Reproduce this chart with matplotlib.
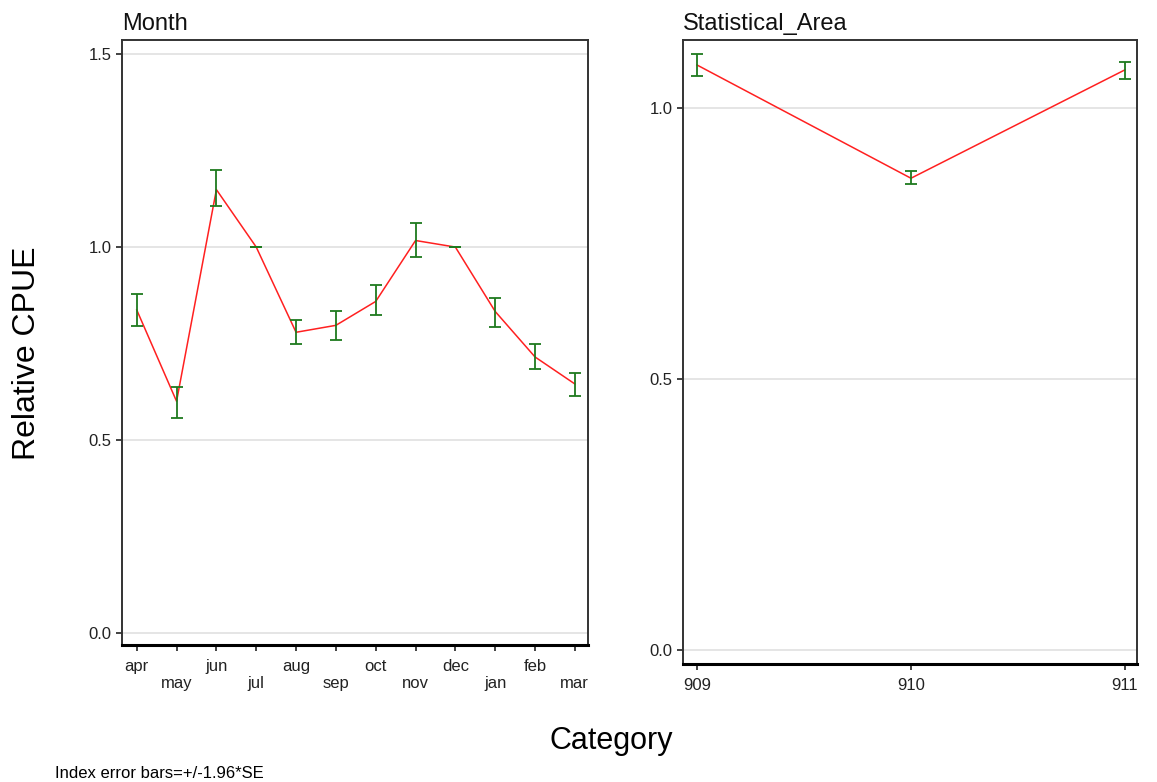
import matplotlib
matplotlib.use("Agg")
import matplotlib.pyplot as plt
import numpy as np

plt.rcParams['font.family'] = ['Liberation Sans', 'DejaVu Sans']

# month effect
months = ['apr', 'may', 'jun', 'jul', 'aug', 'sep', 'oct', 'nov', 'dec', 'jan', 'feb', 'mar']
month_index = [0.837, 0.600, 1.149, 1.000, 0.779, 0.797, 0.859, 1.017, 1.000, 0.833, 0.715, 0.645]
month_lower = [0.796, 0.557, 1.107, 1.000, 0.748, 0.759, 0.823, 0.973, 1.000, 0.793, 0.684, 0.613]
month_upper = [0.879, 0.636, 1.200, 1.000, 0.811, 0.834, 0.901, 1.062, 1.000, 0.867, 0.748, 0.673]

# statistical area effect
areas = ['909', '910', '911']
area_index = [1.079, 0.870, 1.070]
area_lower = [1.058, 0.859, 1.053]
area_upper = [1.099, 0.883, 1.084]

W, H = 1157, 782
fig = plt.figure(figsize=(W / 100, H / 100), dpi=100)
ax1 = fig.add_axes([122 / W, 1 - 645 / H, 466 / W, 605 / H])
ax2 = fig.add_axes([683 / W, 1 - 664 / H, 454 / W, 624 / H])


def draw(ax, labels, vals, lo, hi, title, yticks):
    x = np.arange(len(labels))
    vals = np.array(vals)
    yerr = [vals - np.array(lo), np.array(hi) - vals]
    for y in yticks:
        ax.axhline(y, color='#e0e0e0', lw=1.2, zorder=0)
    ax.plot(x, vals, color='#ff2020', lw=1.1, zorder=2)
    ax.errorbar(x, vals, yerr=yerr, fmt='none', ecolor='#1e7a1e', elinewidth=1.3,
                capsize=4, capthick=1.3, zorder=3)
    ax.set_xticks(x)
    ax.set_yticks(yticks)
    ax.set_yticklabels(['%.1f' % y for y in yticks])
    ax.tick_params(axis='both', labelsize=12, colors='#222222', length=4, width=1.2)
    ax.tick_params(axis='x', pad=6)
    for side in ['top', 'right', 'left']:
        ax.spines[side].set_color('#333333')
        ax.spines[side].set_linewidth(1.4)
    ax.spines['bottom'].set_color('black')
    ax.spines['bottom'].set_linewidth(2.2)
    ax.set_title(title, loc='left', fontsize=17, pad=7, color='#111111')


draw(ax1, months, month_index, month_lower, month_upper, 'Month', [0.0, 0.5, 1.0, 1.5])
ax1.set_xticklabels([m if i % 2 == 0 else '\n' + m for i, m in enumerate(months)],
                    linespacing=1.15)
ax1.set_xlim(-0.37, 11.33)
ax1.set_ylim(-0.032, 1.537)

draw(ax2, areas, area_index, area_lower, area_upper, 'Statistical_Area', [0.0, 0.5, 1.0])
ax2.set_xticklabels(areas)
ax2.set_xlim(-0.065, 2.056)
ax2.set_ylim(-0.026, 1.125)

fig.text(27 / W, 1 - 353 / H, 'Relative CPUE', rotation=90, fontsize=23,
         ha='center', va='center')
fig.text(611 / W, 1 - 741 / H, 'Category', fontsize=22, ha='center', va='center')
fig.text(55 / W, 1 - 773 / H, 'Index error bars=+/-1.96*SE', fontsize=12,
         ha='left', va='center')

fig.savefig('out.png', dpi=100)
